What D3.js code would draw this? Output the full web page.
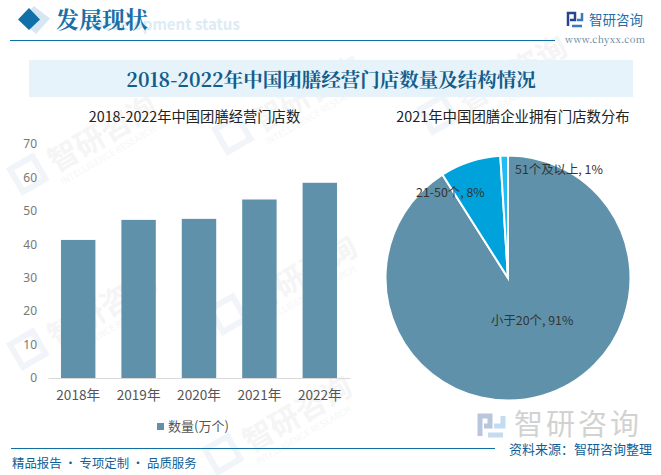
<!DOCTYPE html>
<html><head><meta charset="utf-8">
<script src="https://cdnjs.cloudflare.com/ajax/libs/d3/7.8.5/d3.min.js"></script>
<style>html,body{margin:0;padding:0;background:#fff}svg{display:block}text{font-family:"Noto Sans CJK SC",sans-serif}</style>
</head><body><svg id="c" width="661" height="475"></svg>
<script>
const years=["2018年","2019年","2020年","2021年","2022年"];
const storeCounts=[41.3,47.3,47.6,53.4,58.4];
const yTicks=[0,10,20,30,40,50,60,70];
const pieLabels=["小于20个","21-50个","51个及以上"];
const pieValues=[91,8,1];
const pieColors=["#5f92aa","#00a2dc","#1fbcf5"];
const barColor="#5f92aa";
const wmSpots=[[45,170],[250,130],[455,110],[45,345],[245,310],[455,290],[240,450]];

const svg=d3.select("#c");
const serif='"Noto Serif CJK SC","Liberation Serif","Noto Sans CJK SC",serif';

// watermarks
const wm=svg.append("g");
wmSpots.forEach(([x,y])=>{
  const g=wm.append("g").attr("transform",`translate(${x},${y}) rotate(-30)`);
  g.append("rect").attr("x",-30).attr("y",-18).attr("width",26).attr("height",26).attr("fill","none").attr("stroke","#f1f5f9").attr("stroke-width",6);
  g.append("text").attr("x",8).attr("y",8).attr("font-size",30).attr("fill","#f5f5f5").attr("font-weight",700).text("智研咨询");
  g.append("text").attr("x",8).attr("y",22).attr("font-size",9).attr("fill","#f6f6f6").text("INTELLIGENCE RESEARCH");
});

// header
svg.append("path").attr("d",d3.line()([[32,6],[48,18.5],[34,34],[18,20]])).attr("fill","#d6e7f2").attr("transform","translate(2,0)");
svg.append("path").attr("d",d3.line()([[29,8],[40,19.5],[29,30],[18,19.5]])).attr("fill","#1170a9");
svg.append("text").attr("x",92).attr("y",30).attr("font-size",15).attr("font-weight",700).attr("fill","#dcecf7").attr("font-family","Liberation Sans").text("Development status");
svg.append("text").attr("x",56).attr("y",28).attr("font-size",23).attr("font-weight",700).attr("fill","#1a6fa6").style("font-family",serif).text("发展现状");
svg.append("line").attr("x1",10).attr("x2",555).attr("y1",40.5).attr("y2",40.5).attr("stroke","#1170a3").attr("stroke-width",1);

// logo
const logo=svg.append("g").attr("fill","none").attr("stroke-width",2.5);
logo.append("path").attr("d","M568,26 V13 H575 V20 H570").attr("stroke","#26458f");
logo.append("path").attr("d","M582,13 V20 H577 M582,26 H572").attr("stroke","#3a78c2");
svg.append("text").attr("x",589).attr("y",25).attr("font-size",13.5).attr("fill","#1f6fa8").text("智研咨询");
svg.append("text").attr("x",565).attr("y",43).attr("font-size",9.5).attr("fill","#5d7f99").style("font-family",serif).attr("letter-spacing",0.35).text("www.chyxx.com");

// title band
svg.append("rect").attr("x",29).attr("y",60).attr("width",604).attr("height",37).attr("fill","#e6f3fb");
svg.append("text").attr("x",331).attr("y",87).attr("text-anchor","middle").attr("font-size",19.5).attr("font-weight",700).attr("fill","#135d8a").style("font-family",serif).text("2018-2022年中国团膳经营门店数量及结构情况");

// bar chart
svg.append("text").attr("x",194.5).attr("y",122).attr("text-anchor","middle").attr("font-size",14.3).attr("fill","#222").text("2018-2022年中国团膳经营门店数");
const x=d3.scaleBand().domain(years).range([48,350]).paddingInner(0.43).paddingOuter(0.215);
const y=d3.scaleLinear().domain([0,70]).range([378,144]);
svg.append("g").selectAll("rect").data(storeCounts).join("rect")
  .attr("x",(d,i)=>x(years[i])).attr("width",x.bandwidth()).attr("y",d=>y(d)).attr("height",d=>y(0)-y(d)).attr("fill",barColor);
const ax=svg.append("g").attr("transform","translate(0,378)").call(d3.axisBottom(x).tickSize(0).tickPadding(12));
ax.select(".domain").attr("stroke","#d9d9d9").attr("stroke-width",1);
ax.selectAll("text").attr("font-size",13.6).attr("fill","#555").style("font-family",'"Noto Sans CJK SC",sans-serif');
const ay=svg.append("g").attr("transform","translate(37,0)").call(d3.axisLeft(y).tickValues(yTicks).tickSize(0).tickPadding(0));
ay.select(".domain").remove();
ay.selectAll("text").attr("font-size",12).attr("fill","#777").style("font-family",'"Noto Sans",sans-serif');
svg.append("rect").attr("x",157).attr("y",423).attr("width",7).attr("height",7).attr("fill",barColor);
svg.append("text").attr("x",168).attr("y",431).attr("font-size",13).attr("fill","#555").text("数量(万个)");

// pie
svg.append("text").attr("x",513).attr("y",122).attr("text-anchor","middle").attr("font-size",14.4).attr("fill","#222").text("2021年中国团膳企业拥有门店数分布");
const pie=d3.pie().sort(null)(pieValues);
const arc=d3.arc().innerRadius(0).outerRadius(122.5);
const pg=svg.append("g").attr("transform","translate(508,278)");
pg.selectAll("path").data(pie).join("path").attr("d",arc).attr("fill",(d,i)=>pieColors[i]).attr("stroke","#fff").attr("stroke-width",2);
const labelPos=[[-17,47],[-92,-81],[7,-104]];
pg.selectAll("text").data(pieValues).join("text")
  .attr("x",(d,i)=>labelPos[i][0]).attr("y",(d,i)=>labelPos[i][1]).attr("font-size",12.4).attr("fill","#333")
  .text((d,i)=>`${pieLabels[i]}, ${d}%`);

// footer
svg.append("text").attr("x",514).attr("y",435).attr("font-size",29).attr("letter-spacing",3).attr("fill","#d2d2d2").text("智研咨询");
const fl=svg.append("g").attr("fill","none").attr("stroke-width",5);
fl.append("path").attr("d","M480,436 V416 H490 V426 H484").attr("stroke","#b9c6db");
fl.append("path").attr("d","M503,416 V426 H494 M503,435 H488").attr("stroke","#c4dcf0");
svg.append("line").attr("x1",11).attr("x2",495).attr("y1",448.5).attr("y2",448.5).attr("stroke","#1170a3").attr("stroke-width",1);
svg.append("text").attr("x",12).attr("y",468).attr("font-size",12.4).attr("fill","#0f5f96").text("精品报告 · 专项定制 · 品质服务");
svg.append("text").attr("x",509).attr("y",454).attr("font-size",13).attr("fill","#0f5f96").text("资料来源：智研咨询整理");
</script></body></html>
